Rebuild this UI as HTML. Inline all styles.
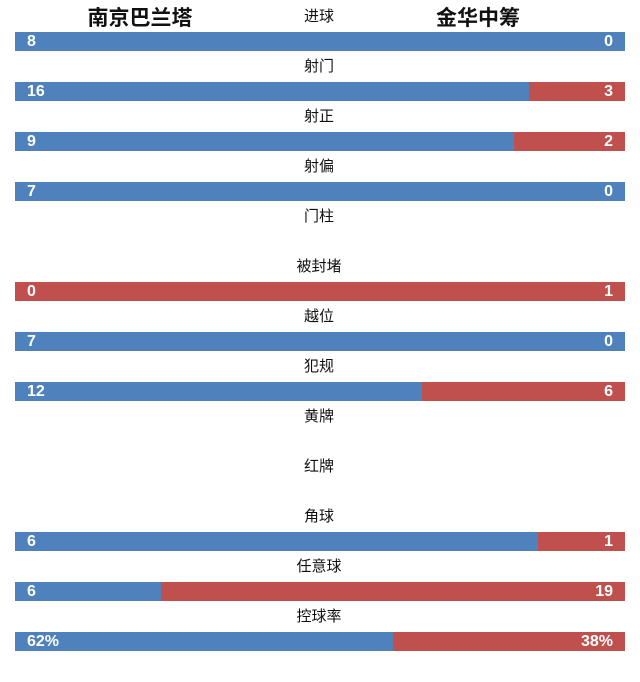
<!DOCTYPE html>
<html><head><meta charset="utf-8"><style>
body{margin:0;width:640px;height:682px;background:#fff;position:relative;overflow:hidden;font-family:"Liberation Sans","Noto Sans CJK SC",sans-serif}
.t{position:absolute;transform:translateX(-50%);white-space:nowrap;color:#111}
.team{font-size:21px;font-weight:bold;top:2px}
.lab{font-size:15px;left:319px}
.bar{position:absolute;left:15px;width:610px;height:19px}
.seg{position:absolute;top:0;height:100%}
.v{position:absolute;top:0;line-height:19px;color:#fff;font-weight:bold;font-size:16px}
</style></head><body>
<div class="t team" style="left:140px">南京巴兰塔</div>
<div class="t team" style="left:478px">金华中筹</div>
<div id="rows"></div>
<script>
const categories=["进球","射门","射正","射偏","门柱","被封堵","越位","犯规","黄牌","红牌","角球","任意球","控球率"];
const homeValues=[8,16,9,7,null,0,7,12,null,null,6,6,62];
const awayValues=[0,3,2,0,null,1,0,6,null,null,1,19,38];
const suffix=["","","","","","","","","","","","","%"];
const X0=15,W=610,ROW=50,LABY=5,BARY=32;
const root=document.getElementById('rows');
categories.forEach((c,i)=>{
  const l=document.createElement('div');
  l.className='t lab';l.style.top=(LABY+i*ROW)+'px';l.textContent=c;
  
  
  root.appendChild(l);
  const h=homeValues[i],a=awayValues[i];
  if(h===null)return;
  const b=document.createElement('div');b.className='bar';b.style.top=(BARY+i*ROW)+'px';
  
  
  const tot=h+a,hw=tot?W*h/tot:W/2;
  const s1=document.createElement('div');s1.className='seg';s1.style.left='0';s1.style.width=hw+'px';s1.style.background='#4f81bd';
  
  
  const s2=document.createElement('div');s2.className='seg';s2.style.left=hw+'px';s2.style.width=(W-hw)+'px';s2.style.background='#c0504d';
  
  
  b.appendChild(s1);b.appendChild(s2);
  const v1=document.createElement('div');v1.className='v';v1.style.left='12px';v1.textContent=h+suffix[i];
  
  
  const v2=document.createElement('div');v2.className='v';v2.style.right='12px';v2.textContent=a+suffix[i];
  
  
  b.appendChild(v1);b.appendChild(v2);
  root.appendChild(b);
});
</script>
</body></html>
